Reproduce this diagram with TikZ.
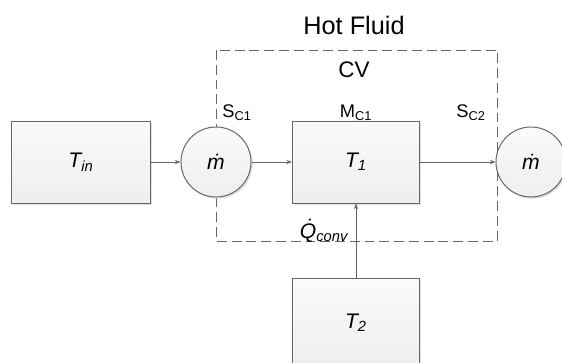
\documentclass[tikz,border=0pt]{standalone}
\usepackage{fontspec}
\setmainfont{Liberation Sans}
\usetikzlibrary{positioning, arrows.meta, shadows}
\definecolor{edge}{rgb}{0.40,0.40,0.40}
\newcommand{\dotQ}{\accent"02D9 Q}
\tikzset{
    flow/.style={draw=edge, line width=0.6pt, -{Stealth[length=4pt, width=3pt]}}, % connectors
    boxshadow/.style={drop shadow={shadow xshift=1.2pt, shadow yshift=-1.2pt, fill=gray!40, opacity=0.6}},
    block/.style={draw=edge, line width=0.7pt, top color=gray!4, bottom color=gray!13, boxshadow,
                  minimum width=3.175cm, minimum height=2.05cm, font=\fontsize{15}{17}\selectfont},
    junction/.style={circle, draw=edge, line width=0.7pt, top color=gray!4, bottom color=gray!13, boxshadow,
                  minimum size=1.75cm, inner sep=0pt, font=\fontsize{15}{17}\selectfont},
    cvbox/.style={draw=edge, line width=0.6pt, dash pattern=on 7pt off 3.5pt},
    lbl/.style={inner sep=0pt, font=\fontsize{13}{15}\selectfont},
}

\begin{document}
\begin{tikzpicture}[x=0.025cm, y=-0.025cm]
  \path[use as bounding box, clip] (0,0) rectangle (562,363);
  \draw[cvbox] (216,50) rectangle (497,241);

  \node[block, minimum width=3.45cm] (tin) at (81,162) {\textit{T\textsubscript{in}}};
  \node[junction] (m1) at (216,162) {\textit{\.{m}}};
  \node[block] (t1) at (356,162) {\textit{T\textsubscript{1}}};
  \node[junction] (m2) at (531,162) {\textit{\.{m}}};
  \node[block, minimum height=2.2cm] (t2) at (356,323) {\textit{T\textsubscript{2}}};

  \draw[flow] (tin) -- (m1);
  \draw[flow] (m1) -- (t1);
  \draw[flow] (t1) -- (m2);
  \draw[flow] (t2) -- (t1);

  \node[lbl, font=\fontsize{18}{20}\selectfont] (hot) at (354,25) {Hot Fluid};
  \node[lbl, font=\fontsize{16}{18}\selectfont] (cv) at (354,70) {CV};
  \node[lbl] (sc1) at (237,113) {S\textsubscript{C1}};
  \node[lbl] (mc1) at (356,113) {M\textsubscript{C1}};
  \node[lbl] (sc2) at (471,113) {S\textsubscript{C2}};
  \node[lbl, font=\fontsize{15}{17}\selectfont] (qconv) at (324,231) {\textit{\dotQ\textsubscript{conv}}};
\end{tikzpicture}
\end{document}
